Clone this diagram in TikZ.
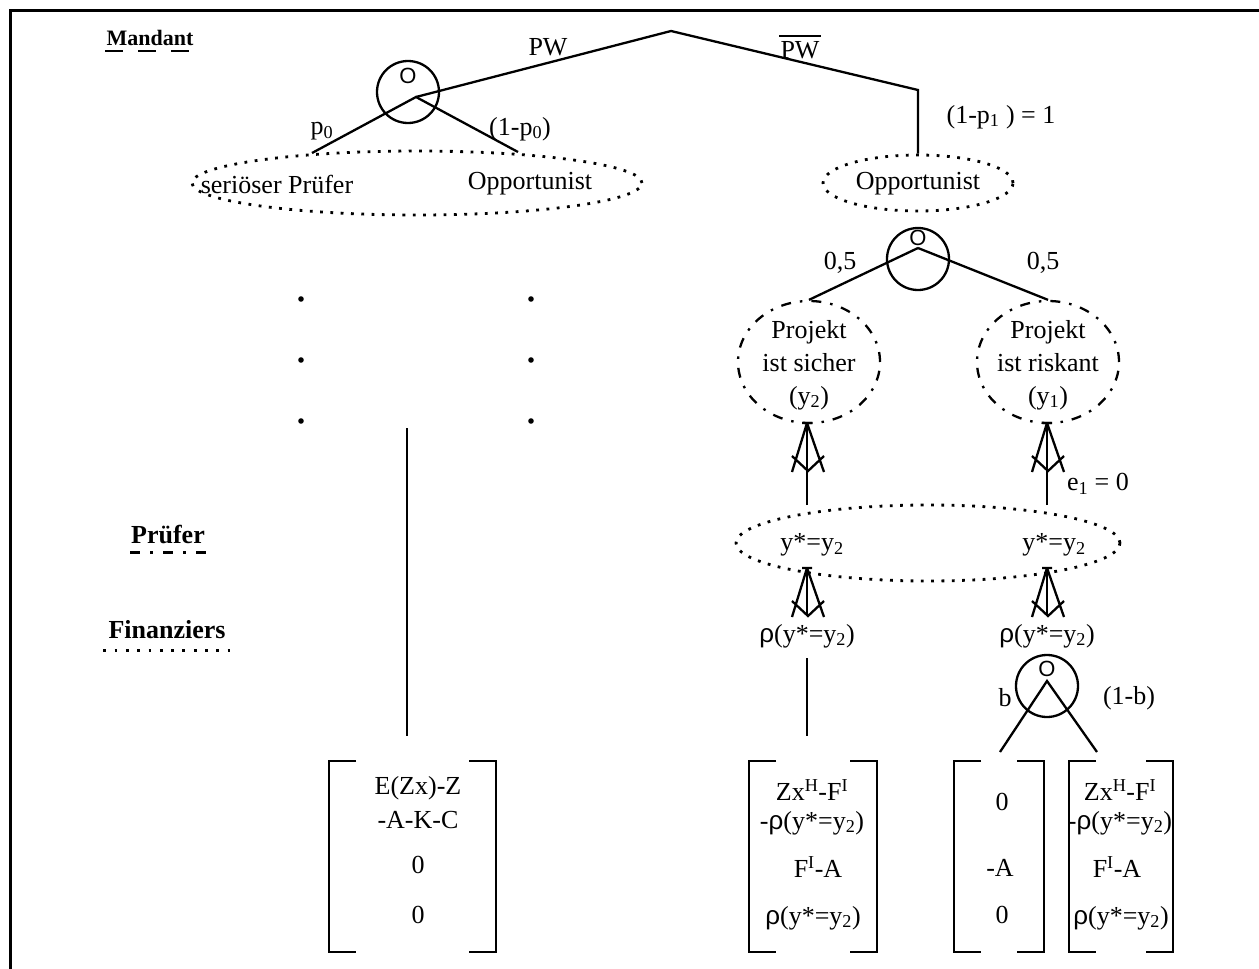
\documentclass[tikz,border=0pt]{standalone}
\usepackage{fontspec}
\setmainfont{Liberation Serif}
\newfontfamily\sansf{Liberation Sans}
\usetikzlibrary{shapes.geometric}
\newcommand{\rh}{{\sansf ρ}}
\begin{document}
\begin{tikzpicture}[x=1pt,y=-1pt,line width=2.3pt,
  txt/.style={inner sep=0pt,font=\fontsize{26}{33}\selectfont,align=center},
  head/.style={inner sep=0pt,font=\bfseries\fontsize{26}{30}\selectfont},
  chance/.style={circle,draw,minimum size=62pt,inner sep=0pt},
  olabel/.style={inner sep=0pt,font=\sansf\fontsize{22}{22}\selectfont},
  dotell/.style={ellipse,draw,line width=2.8pt,dash pattern=on 2.8pt off 7.5pt,inner sep=0pt},
  dashdotell/.style={ellipse,draw,line width=2.3pt,dash pattern=on 10pt off 9pt on 2.5pt off 9pt,inner sep=0pt},
  bracketl/.style={line width=2.6pt},
  upar/.pic={\draw (0,0) -- (-15,49) (0,0) -- (17,49) (-15,33) -- (1,48) -- (17,33) (-5,0) -- (5,0);}
]
\useasboundingbox (0,0) rectangle (1259,969);
% frame
\draw[line width=3pt] (10,969) -- (10,10) -- (1259,10);

% headings
\node[head,font=\bfseries\fontsize{22}{26}\selectfont] (mandant) at (150,38) {Mandant};
\draw[line width=2.5pt,dash pattern=on 18pt off 15pt] (mandant.south west) ++(0,4) coordinate (mu1) (mu1) -- (mu1 -| mandant.south east);
\node[head] (pruefer) at (168,535) {Prüfer};
\draw[line width=2.5pt,dash pattern=on 10pt off 10pt on 3pt off 10pt] (pruefer.south west) ++(0,7) coordinate (pu1) (pu1) -- (pu1 -| pruefer.south east);
\node[head] (finanz) at (167,630) {Finanziers};
\draw[line width=2.8pt,dash pattern=on 2.8pt off 8.5pt] (finanz.south west) ++(-4,10) coordinate (fu1) (fu1) -- ([xshift=6pt]fu1 -| finanz.south east);

% top of tree
\coordinate (apex) at (671,31);
\coordinate (corner) at (918,90);
\node[chance] (c1) at (408,92) {};
\node[olabel] (o1) at (408,76) {O};
\coordinate (v1) at (416,97);
\node[txt] (pw) at (548,47) {PW};
\node[txt] (pwbar) at (800,50) {PW};
\draw ([yshift=4pt]pwbar.north west) -- ([yshift=4pt]pwbar.north east);

\node[dotell,minimum width=450pt,minimum height=64pt] (e1) at (417,183) {};
\node[txt] (ser) at (277,184) {seriöser Prüfer};
\node[txt] (opp1) at (530,184) {Opportunist};
\coordinate (e1l) at (312,153);
\coordinate (e1r) at (518,152);
\node[txt] (p0) at (322,131) {p\textsubscript{0}};
\node[txt] (p0c) at (520,129) {(1-p\textsubscript{0})};

\node[dotell,minimum width=190pt,minimum height=56pt] (e2) at (918,183) {};
\node[txt] (opp2) at (918,184) {Opportunist};
\node[txt] (p1) at (1001,117) {(1-p\textsubscript{1} ) = 1};

\draw (v1) -- (apex) -- (corner) -- (e2.north);
\draw (e1l) -- (v1) -- (e1r);

% left dots and line
\foreach \yy in {299,360,421}{
  \fill (301,\yy) circle (2.8pt);
  \fill (531,\yy) circle (2.8pt);
}
\coordinate (lt) at (407,428);

% second chance node
\node[chance] (c2) at (918,259) {};
\node[olabel] (o2) at (918,238) {O};
\coordinate (v2) at (918,248);
\node[txt] (h1) at (840,263) {0,5};
\node[txt] (h2) at (1043,263) {0,5};

\node[dashdotell,minimum width=142pt,minimum height=122pt] (ps) at (809,362) {};
\node[dashdotell,minimum width=142pt,minimum height=122pt] (pr) at (1048,362) {};
\node[txt] (pst) at (809,365) {Projekt\\ist sicher\\(y\textsubscript{2})};
\node[txt] (prt) at (1048,365) {Projekt\\ist riskant\\(y\textsubscript{1})};
\draw (v2) -- (ps.north);
\draw (v2) -- (pr.north);

% Pruefer ellipse
\node[dotell,minimum width=384pt,minimum height=76pt] (pe) at (928,543) {};
\node[txt] (ys1) at (812,545) {y*=y\textsubscript{2}};
\node[txt] (ys2) at (1054,545) {y*=y\textsubscript{2}};

% arrows up to project ellipses
\coordinate (t1) at (807,423);
\coordinate (t2) at (1047,423);
\coordinate (b1) at (807,505);
\coordinate (b2) at (1047,505);
\draw (b1) -- (t1); \pic at (t1) {upar};
\draw (b2) -- (t2); \pic at (t2) {upar};
\node[txt] (e10) at (1098,484) {e\textsubscript{1} = 0};

% arrows up to Pruefer ellipse
\coordinate (t3) at (807,568);
\coordinate (t4) at (1047,568);
\coordinate (b3) at (807,616);
\coordinate (b4) at (1047,616);
\draw (b3) -- (t3); \pic at (t3) {upar};
\draw (b4) -- (t4); \pic at (t4) {upar};

\node[txt] (r1) at (807,636) {\rh(y*=y\textsubscript{2})};
\node[txt] (r2) at (1047,636) {\rh(y*=y\textsubscript{2})};

% third chance node
\node[chance] (c3) at (1047,686) {};
\node[olabel] (o3) at (1047,669) {O};
\coordinate (v3) at (1047,681);
\node[txt] (bl) at (1005,698) {b};
\node[txt] (bc) at (1129,698) {(1-b)};
\coordinate (m3t) at (1000,752);
\coordinate (m4t) at (1097,752);
\draw (m3t) -- (v3) -- (m4t);

% matrices
\newcommand{\brk}[2]{%
  \draw[bracketl] (#1+27,761) -- (#1,761) -- (#1,952) -- (#1+27,952);
  \draw[bracketl] (#2-27,761) -- (#2,761) -- (#2,952) -- (#2-27,952);}
\brk{329}{496}
\brk{749}{877}
\brk{954}{1044}
\brk{1069}{1173}

\coordinate (m1t) at (407,736);
\draw (lt) -- (m1t);
\coordinate (m2t) at (807,736);
\coordinate (m2s) at (807,658);
\draw (m2s) -- (m2t);

\node[txt] (a1) at (418,788) {E(Zx)-Z};
\node[txt] (a2) at (418,820) {-A-K-C};
\node[txt] (a3) at (418,865) {0};
\node[txt] (a4) at (418,915) {0};

\node[txt] (b1t) at (812,790) {Zx\textsuperscript{H}-F\textsuperscript{I}};
\node[txt] (b2t) at (812,823) {-\rh(y*=y\textsubscript{2})};
\node[txt] (b3t) at (818,867) {F\textsuperscript{I}-A};
\node[txt] (b4t) at (813,918) {\rh(y*=y\textsubscript{2})};

\node[txt] (c1t) at (1002,802) {0};
\node[txt] (c2t) at (1000,868) {-A};
\node[txt] (c3t) at (1002,915) {0};

\node[txt] (d1t) at (1120,790) {Zx\textsuperscript{H}-F\textsuperscript{I}};
\node[txt] (d2t) at (1120,823) {-\rh(y*=y\textsubscript{2})};
\node[txt] (d3t) at (1117,867) {F\textsuperscript{I}-A};
\node[txt] (d4t) at (1121,918) {\rh(y*=y\textsubscript{2})};
\end{tikzpicture}
\end{document}
